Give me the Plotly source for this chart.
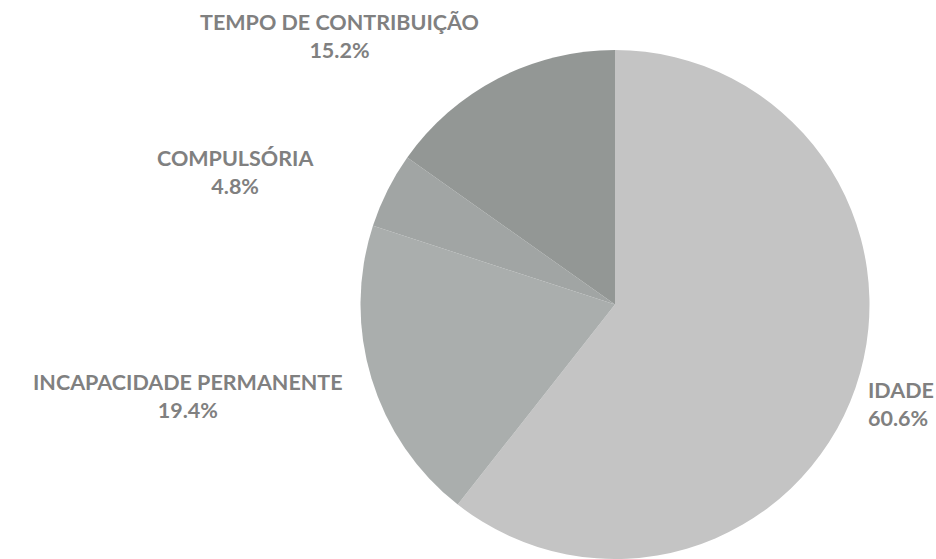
import plotly.graph_objects as go

labels = ["IDADE", "INCAPACIDADE PERMANENTE", "COMPULSÓRIA", "TEMPO DE CONTRIBUIÇÃO"]
values = [60.6, 19.4, 4.8, 15.2]
colors = ["#c4c4c4", "#aaaead", "#a1a5a4", "#939795"]

W, H = 936, 559

fig = go.Figure(go.Pie(
    labels=labels,
    values=values,
    sort=False,
    direction="clockwise",
    rotation=0,
    marker=dict(colors=colors, line=dict(width=0)),
    textinfo="none",
    hoverinfo="label+percent",
    domain=dict(x=[355 / W, 875 / W], y=[0 / H, 509 / H]),
    showlegend=False,
))

# label placement (pixels -> paper fraction)
label_pos = {
    "TEMPO DE CONTRIBUIÇÃO": (339, 36, "center"),
    "COMPULSÓRIA": (235, 172, "center"),
    "INCAPACIDADE PERMANENTE": (188, 396, "center"),
    "IDADE": (866, 404, "left"),
}
for lab, val in zip(labels, values):
    x, y, al = label_pos[lab]
    fig.add_annotation(
        x=x / W, y=1 - y / H, xref="paper", yref="paper",
        text=f"{lab}<br>{val:.1f}%",
        showarrow=False, align=al,
        xanchor="left" if al == "left" else "center", yanchor="middle",
        font=dict(family="Lato", size=21.5, color="#808080", weight="bold"),
    )

fig.update_layout(
    width=W, height=H,
    margin=dict(l=0, r=0, t=0, b=0),
    paper_bgcolor="white",
    plot_bgcolor="white",
)

fig.write_html("out.html", config={"displayModeBar": False},
               post_script="document.body.style.margin='0';")
